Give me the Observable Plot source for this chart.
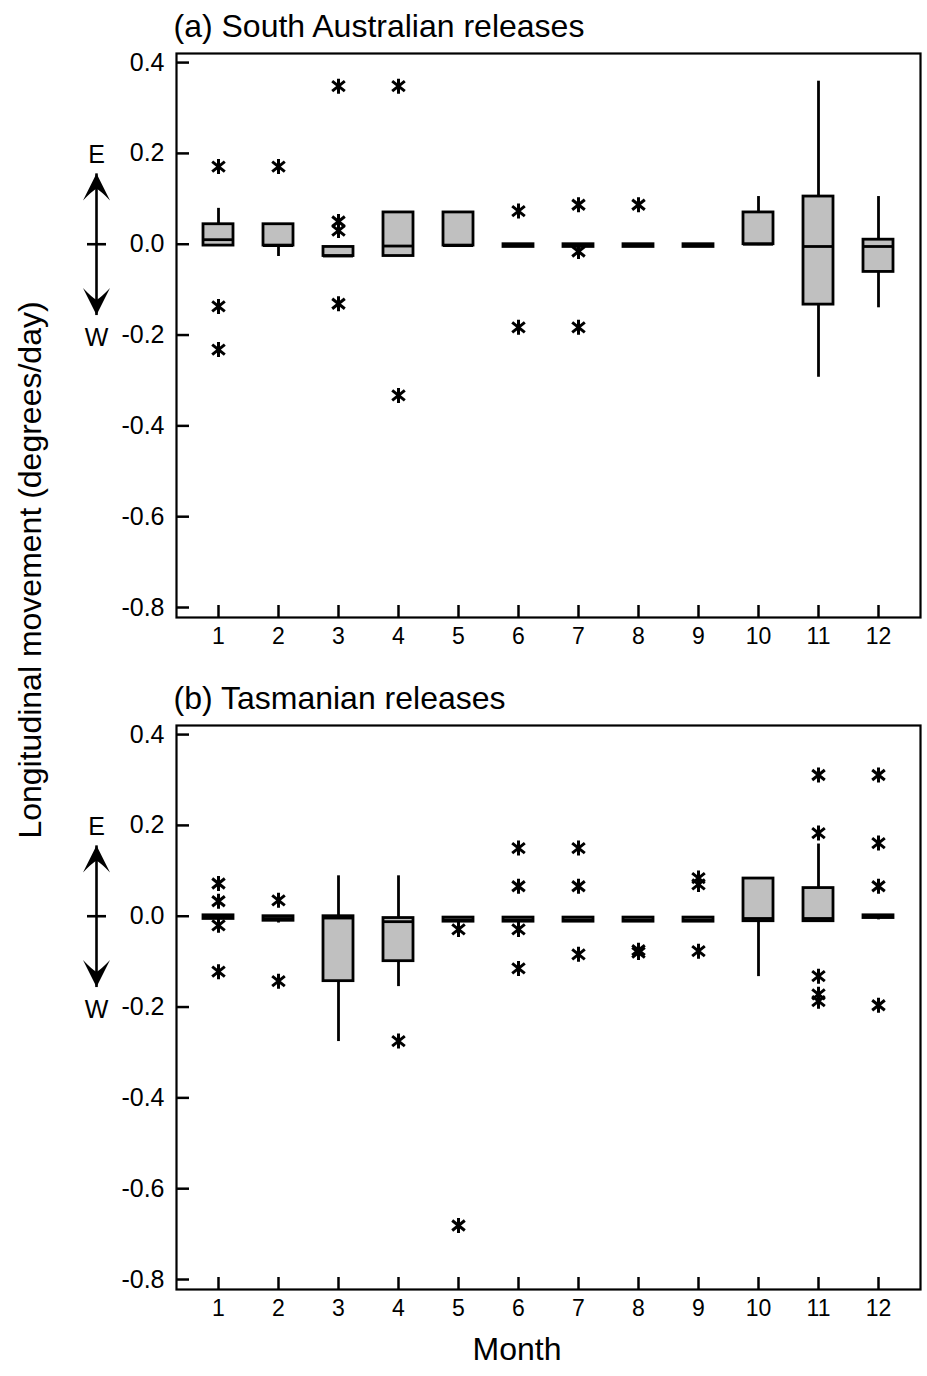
<!DOCTYPE html>
<html><head><meta charset="utf-8">
<script src="https://cdn.jsdelivr.net/npm/d3@7"></script>
<script src="https://cdn.jsdelivr.net/npm/@observablehq/plot@0.6"></script>
<style>
body{margin:0;background:#fff;font-family:"Liberation Sans",Arial,sans-serif;}
#fig{position:relative;width:927px;height:1376px;background:#fff;}
.panel{position:absolute;left:0;z-index:1;}
#ylab{position:absolute;z-index:5;left:30px;top:570px;transform:translate(-50%,-50%) rotate(-90deg);font-size:32px;white-space:nowrap;color:#000;}
#xlab{position:absolute;z-index:5;left:517px;top:1349px;transform:translate(-50%,-50%);font-size:32px;color:#000;}
</style></head><body>
<div id="fig"><div id="ylab">Longitudinal movement (degrees/day)</div><div id="xlab">Month</div></div>
<script>
// ---------- data ----------
const months = [1,2,3,4,5,6,7,8,9,10,11,12];
const yTicks = [0.4,0.2,0.0,-0.2,-0.4,-0.6,-0.8];

// (a) South Australian releases
const aTitle = "(a) South Australian releases";
const aQ1  = [-0.003,-0.003,-0.026,-0.026,-0.003,-0.006,-0.006,-0.006,-0.006, 0.000,-0.133,-0.061];
const aMed = [ 0.010,-0.003,-0.026,-0.004,-0.003,-0.003,-0.003,-0.003,-0.003, 0.000,-0.005,-0.005];
const aQ3  = [ 0.044, 0.044,-0.006, 0.070, 0.070, 0.000, 0.000, 0.000, 0.000, 0.070, 0.105, 0.010];
const aLo  = [-0.003,-0.027,-0.026,-0.026,-0.003,-0.006,-0.006,-0.006,-0.006,-0.003,-0.293,-0.140];
const aHi  = [ 0.079, 0.044,-0.006, 0.070, 0.070, 0.000, 0.000, 0.000, 0.000, 0.105, 0.359, 0.105];
const aOutMonth = [1,1,1,2,3,3,3,3,4,4,6,6,7,7,7,8];
const aOutValue = [0.171,-0.137,-0.232,0.171,0.348,0.050,0.030,-0.131,0.348,-0.333,0.073,-0.183,0.087,-0.016,-0.183,0.087];

// (b) Tasmanian releases
const bTitle = "(b) Tasmanian releases";
const bQ1  = [-0.006,-0.010,-0.143,-0.099,-0.012,-0.012,-0.012,-0.012,-0.012,-0.011,-0.011,-0.004];
const bMed = [-0.002,-0.005,-0.004,-0.012,-0.008,-0.008,-0.008,-0.008,-0.008,-0.005,-0.005, 0.000];
const bQ3  = [ 0.002, 0.000, 0.000,-0.004,-0.003,-0.003,-0.003,-0.003,-0.003, 0.083, 0.062, 0.002];
const bLo  = [-0.006,-0.015,-0.276,-0.155,-0.012,-0.012,-0.012,-0.012,-0.012,-0.133,-0.011,-0.008];
const bHi  = [ 0.002, 0.000, 0.089, 0.089,-0.003,-0.003,-0.003,-0.003,-0.003, 0.083, 0.159, 0.002];
const bOutMonth = [1,1,1,1,2,2,4,5,5,6,6,6,6,7,7,7,8,8,9,9,9,11,11,11,11,11,12,12,12,12];
const bOutValue = [0.072,0.033,-0.020,-0.122,0.035,-0.143,-0.275,-0.029,-0.681,0.150,0.066,-0.029,-0.115,0.150,0.066,-0.084,-0.075,-0.080,0.084,0.070,-0.077,0.311,0.183,-0.132,-0.172,-0.187,0.311,0.161,0.066,-0.196];

// direction annotation (E / W arrow)
const arrowTips = [0.156, -0.156];
const dirLabels = ["E", "W"];
const dirLabelY = [0.197, -0.207];

// ---------- drawing ----------
const xDomain = [0.3, 12.7];
const yDomain = [-0.822, 0.42];
const font = '"Liberation Sans", Arial, sans-serif';

const arrowHead = {draw(ctx){ ctx.moveTo(0,0); ctx.lineTo(13.5,27); ctx.quadraticCurveTo(5,18,0,15); ctx.quadraticCurveTo(-5,18,-13.5,27); ctx.closePath(); }};
const crossBar = {draw(ctx){ ctx.moveTo(-9.5,0); ctx.lineTo(9.5,0); }};
const star = {draw(ctx){
  ctx.moveTo(0,-7.5); ctx.lineTo(0,7.5);
  ctx.moveTo(-6.3,-5); ctx.lineTo(6.3,5);
  ctx.moveTo(-6.3,5); ctx.lineTo(6.3,-5);
}};

function panel(title, q1, med, q3, lo, hi, outM, outV) {
  const boxes = months.map((m,i)=>({m, q1:q1[i], med:med[i], q3:q3[i], lo:lo[i], hi:hi[i]}));
  const outliers = outM.map((m,i)=>({m, v:outV[i]}));
  const xL = xDomain[0];
  const W = 927, H = 660, mL = 176, mR = 7, mT = 53, mB = 43;
  const fw = W - mL - mR, fh = H - mT - mB;
  const lw = 2.8;
  return Plot.plot({
    width: W, height: H, marginLeft: mL, marginRight: mR, marginTop: mT, marginBottom: mB,
    style: {fontFamily: font, fontSize: "23px", color: "black", background: "transparent", overflow: "visible"},
    x: {domain: xDomain, label: null},
    y: {domain: yDomain, label: null},
    marks: [
      Plot.tickY(yTicks, {y: d=>d, insetRight: fw - 13, strokeWidth: 2.5}),
      Plot.tickX(months, {x: d=>d, insetTop: fh - 12, strokeWidth: 2.5}),
      Plot.ruleX(boxes.filter(d=>d.hi>d.q3), {x:"m", y1:"q3", y2:"hi", strokeWidth:lw}),
      Plot.ruleX(boxes.filter(d=>d.lo<d.q1), {x:"m", y1:"lo", y2:"q1", strokeWidth:lw}),
      Plot.rect(boxes, {x1: d=>d.m-0.25, x2: d=>d.m+0.25, y1:"q1", y2:"q3", fill:"#c0c0c0", stroke:"black", strokeWidth:lw}),
      Plot.ruleY(boxes, {y:"med", x1: d=>d.m-0.25, x2: d=>d.m+0.25, strokeWidth:lw}),
      Plot.dot(outliers, {x:"m", y:"v", symbol: star, stroke:"black", strokeWidth:3, fill:"none"}),
      Plot.axisY({ticks: yTicks, tickSize: 0, tickPadding: 12, tickFormat: d=>d.toFixed(1), fontSize: 25}),
      Plot.axisX({ticks: months, tickSize: 0, tickPadding: 10, tickFormat: d=>String(d), fontSize: 23}),
      Plot.frame({stroke:"black", strokeWidth:2.2}),
      // E/W direction arrow in the left margin
      Plot.link([arrowTips], {x1: ()=>xL, x2: ()=>xL, y1: d=>d[0], y2: d=>d[1], dx: -80, strokeWidth: 2.6, stroke: "black"}),
      Plot.dot(arrowTips.map((y,i)=>({y, rot: i===0 ? 0 : 180})), {x: ()=>xL, y:"y", rotate:"rot", symbol: arrowHead, fill:"black", stroke:"none", dx:-80}),
      Plot.dot([0], {x: ()=>xL, y: d=>d, symbol: crossBar, stroke:"black", strokeWidth:2.6, fill:"none", dx:-80}),
      Plot.text(dirLabels, {x: ()=>xL, y: (d,i)=>dirLabelY[i], text: d=>d, dx:-80, fontSize: 25, fill:"black"}),
      // panel title
      Plot.text([title], {frameAnchor:"top-left", text: d=>d, textAnchor:"start", lineAnchor:"bottom", dx:-3, dy:-17, fontSize: 32, fill:"black"})
    ]
  });
}

const fig = document.getElementById("fig");
const pa = panel(aTitle, aQ1, aMed, aQ3, aLo, aHi, aOutMonth, aOutValue);
pa.classList.add("panel"); pa.style.top = "0px";
const pb = panel(bTitle, bQ1, bMed, bQ3, bLo, bHi, bOutMonth, bOutValue);
pb.classList.add("panel"); pb.style.top = "672px";
fig.appendChild(pa); fig.appendChild(pb);
</script>
</body></html>
